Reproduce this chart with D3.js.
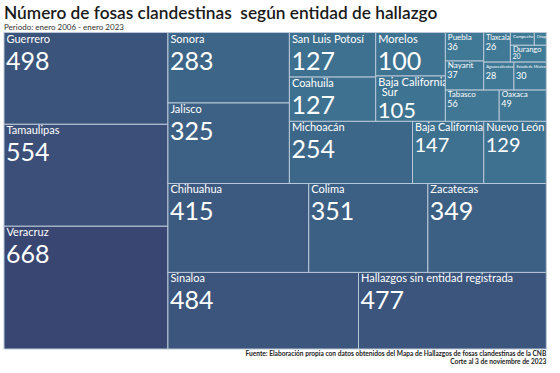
<!DOCTYPE html>
<html>
<head>
<meta charset="utf-8">
<script src="https://cdn.jsdelivr.net/npm/d3@7"></script>
<style>
  body { margin: 0; background: #fff; }
  svg { display: block; font-family: Lato, "Open Sans", sans-serif; }
</style>
</head>
<body>
<div id="chart"></div>
<script>
// datos (orden del mapa de arbol)
var estados = ["Veracruz", "Tamaulipas", "Guerrero", "Sinaloa", "Hallazgos sin entidad registrada",
  "Chihuahua", "Colima", "Zacatecas", "Jalisco", "Sonora", "Michoacán", "Baja California",
  "Nuevo León", "Coahuila", "San Luis Potosí", "Baja California Sur", "Morelos", "Tabasco",
  "Oaxaca", "Nayarit", "Puebla", "Aguascalientes", "Estado de México", "Tlaxcala", "Durango",
  "Campeche", "Chiapas"];
var fosas = [668, 554, 498, 484, 477, 415, 351, 349, 325, 283, 254, 147, 129, 127, 127, 105, 100,
  56, 49, 37, 36, 28, 30, 26, 20, 10, 5];

var titulo = "Número de fosas clandestinas  según entidad de hallazgo";
var subtitulo = "Periodo: enero 2006 - enero 2023";
var fuente = ["Fuente: Elaboración propia con datos obtenidos del Mapa de Hallazgos de fosas clandestinas de la CNB",
  "Corte al 3 de noviembre de 2023"];

var width = 560, height = 373;
var margin = {top: 32.5, right: 13.7, bottom: 24, left: 4};

var svg = d3.select("#chart").append("svg")
    .attr("width", width)
    .attr("height", height);

// layout en un cuadrado unitario y luego estirado al area del grafico
var root = d3.hierarchy({children: estados.map(function(e, i) { return {name: e, value: fosas[i]}; })})
    .sum(function(d) { return d.value; });

d3.treemap()
    .tile(d3.treemapSquarify.ratio(1))
    .size([1, 1])(root);

var x = d3.scaleLinear().domain([0, 1]).range([margin.left, width - margin.right]);
var y = d3.scaleLinear().domain([0, 1]).range([height - margin.bottom, margin.top]);

var color = d3.scaleLinear()
    .domain([d3.min(fosas), d3.max(fosas)])
    .range(["#3f7b97", "#3a4672"]);

var cell = svg.selectAll("g.cell")
    .data(root.leaves())
  .enter().append("g")
    .attr("class", "cell")
    .attr("transform", function(d) { return "translate(" + x(d.x0) + "," + y(d.y1) + ")"; });

cell.append("rect")
    .attr("width", function(d) { return x(d.x1) - x(d.x0); })
    .attr("height", function(d) { return y(d.y0) - y(d.y1); })
    .attr("fill", function(d) { return color(d.value); })
    .attr("stroke", "#b9c7d6")
    .attr("stroke-width", 1);

cell.each(function(d) {
  var g = d3.select(this);
  var w = x(d.x1) - x(d.x0), h = y(d.y0) - y(d.y1);
  var nameSize, valSize, nameY, valY, showVal = true;
  if (w >= 60 && h >= 40) {
    nameSize = 11; nameY = 10; valY = 37;
    valSize = (w < 75 && h > 55) ? 20 : 25;
    if (valSize === 20) valY = 31;
  } else if (h >= 25) {
    nameSize = 8; valSize = 9; nameY = 7; valY = 17;
  } else if (h >= 14) {
    nameSize = 7.5; valSize = 7; nameY = 6.5; valY = 13.8;
  } else {
    nameSize = 5; showVal = false; nameY = 5;
  }

  var name = g.append("text")
      .attr("x", 2.5)
      .attr("y", nameY)
      .attr("fill", "#fff")
      .style("font-size", nameSize + "px")
      .text(d.data.name);

  var len = name.node().getComputedTextLength();
  if (nameSize === 11 && len > w + 4) {
    // nombre en dos lineas
    var words = d.data.name.split(" ");
    var last = words.pop();
    name.text(words.join(" "));
    g.append("text")
        .attr("x", 6)
        .attr("y", nameY + 10.5)
        .attr("fill", "#fff")
        .style("font-size", nameSize + "px")
        .text(last);
    valY += 5.5; valSize = 22;
  } else if (len > w - 3) {
    var s = Math.max(3.5, nameSize * (w - 3) / len);
    name.style("font-size", s + "px");
    if (nameSize < 11) {
      nameY = Math.min(nameY, s + 2);
      name.attr("y", nameY);
    }
  }

  if (showVal) {
    g.append("text")
        .attr("x", 2)
        .attr("y", valY)
        .attr("fill", "#fff")
        .style("font-size", valSize + "px")
        .text(d.value);
  }
});

// titulos
svg.append("text")
    .attr("x", 4)
    .attr("y", 19)
    .attr("xml:space", "preserve")
    .style("white-space", "pre")
    .style("font-size", "17.3px")
    .style("font-weight", 600)
    .attr("fill", "#1a1a1a")
    .text(titulo);

svg.append("text")
    .attr("x", 4)
    .attr("y", 29.5)
    .style("font-size", "8px")
    .attr("fill", "#333")
    .text(subtitulo);

svg.selectAll("text.fuente")
    .data(fuente)
  .enter().append("text")
    .attr("class", "fuente")
    .attr("x", width - margin.right)
    .attr("y", function(d, i) { return 356 + i * 7.5; })
    .attr("text-anchor", "end")
    .style("font-size", "6.6px")
    .style("font-weight", "bold")
    .attr("fill", "#222")
    .text(function(d) { return d; });
</script>
</body>
</html>
